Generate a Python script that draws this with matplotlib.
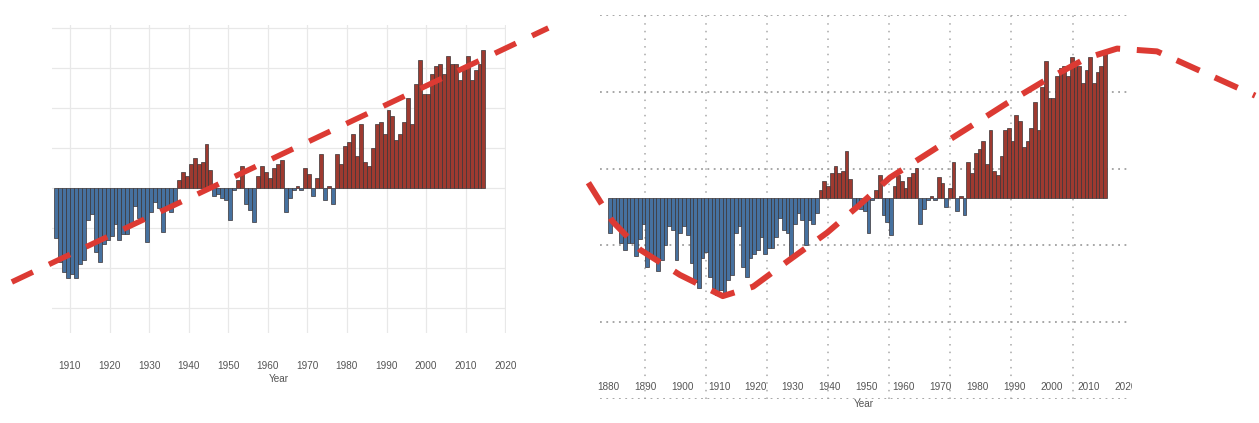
import numpy as np
import matplotlib
matplotlib.use("Agg")
import matplotlib.pyplot as plt
from matplotlib.transforms import Bbox, TransformedBbox

plt.rcParams['font.family'] = ['Liberation Sans', 'DejaVu Sans']

# annual anomalies, 1880-2014
years = np.arange(1880, 2015)
anomaly = [
    -0.16, -0.10, -0.12, -0.21, -0.24, -0.21, -0.21, -0.27, -0.19, -0.12,   # 1880s
    -0.32, -0.27, -0.29, -0.34, -0.29, -0.22, -0.13, -0.15, -0.29, -0.16,   # 1890s
    -0.13, -0.17, -0.30, -0.39, -0.42, -0.28, -0.25, -0.37, -0.42, -0.45,   # 1900s
    -0.43, -0.45, -0.38, -0.36, -0.16, -0.13, -0.32, -0.37, -0.28, -0.26,   # 1910s
    -0.24, -0.18, -0.26, -0.23, -0.23, -0.18, -0.09, -0.15, -0.16, -0.27,   # 1920s
    -0.12, -0.07, -0.10, -0.22, -0.10, -0.12, -0.07, 0.04, 0.08, 0.06,      # 1930s
    0.12, 0.15, 0.12, 0.13, 0.22, 0.09, -0.04, -0.03, -0.05, -0.06,         # 1940s
    -0.16, -0.01, 0.04, 0.11, -0.08, -0.11, -0.17, 0.06, 0.11, 0.08,        # 1950s
    0.05, 0.10, 0.12, 0.14, -0.12, -0.05, -0.01, 0.01, -0.01, 0.10,         # 1960s
    0.07, -0.04, 0.05, 0.17, -0.06, 0.01, -0.08, 0.17, 0.12, 0.21,          # 1970s
    0.23, 0.27, 0.16, 0.32, 0.13, 0.11, 0.20, 0.32, 0.33, 0.27,             # 1980s
    0.39, 0.36, 0.24, 0.27, 0.33, 0.45, 0.32, 0.52, 0.64, 0.47,             # 1990s
    0.47, 0.57, 0.61, 0.62, 0.57, 0.66, 0.62, 0.62, 0.54, 0.60,             # 2000s
    0.66, 0.54, 0.59, 0.62, 0.69,                                           # 2010s
]
left_start = 1906

# straight dashed trend on the left panel
trend_years = [1895.3, 2030.9]
trend_values = [-0.47, 0.80]

# dashed curve on the right panel
curve_years = [1874.6, 1881.2, 1888.6, 1899.4, 1911.0, 1919.2, 1928.4, 1939.3, 1948.1,
               1956.3, 1969.0, 1978.0, 1988.0, 1997.7, 2009.6, 2017.8, 2028.6, 2055.2]
curve_values = [0.073, -0.109, -0.24, -0.358, -0.457, -0.413, -0.296, -0.16, -0.03,
                0.097, 0.237, 0.335, 0.445, 0.545, 0.656, 0.70, 0.687, 0.48]

tick_years = np.arange(1880, 2021, 10)

anomaly = np.array(anomaly)
blue, red = '#46719f', '#9e3a30'
edge = '#3a3436'
dash_red = '#dc3a33'


def bars(ax, yrs, vals):
    cols = [red if v > 0 else blue for v in vals]
    ax.bar(yrs, vals, width=1.0, align='edge', color=cols, edgecolor=edge,
           linewidth=0.5, zorder=2)


fig = plt.figure(figsize=(12.59, 4.23), dpi=100)
W, H = 1259, 423

# ---- left panel ----
ax1 = fig.add_axes([52 / W, (H - 333) / H, 454 / W, 308 / H])
mask = years >= left_start
bars(ax1, years[mask], anomaly[mask])
ax1.set_xlim(1905.45, 2020.2)
ax1.set_ylim(-0.725, 0.815)
ax1.set_xticks(tick_years[tick_years >= 1910])
ax1.set_yticks(np.arange(-0.6, 0.81, 0.2))
ax1.grid(True, color='#e8e8e8', linewidth=0.9, zorder=0)
ax1.set_axisbelow(True)
for s in ax1.spines.values():
    s.set_visible(False)
ax1.tick_params(axis='x', length=0, pad=20, labelsize=7.2, labelcolor='#555555')
ax1.tick_params(axis='y', length=0, labelleft=False)
ax1.set_xlabel('Year', fontsize=7.2, color='#555555', labelpad=2.5)
ax1.plot(trend_years, trend_values, color=dash_red, lw=4.0, dashes=(4.2, 3.2),
         solid_capstyle='butt', dash_capstyle='butt', clip_on=False, zorder=5)

# ---- right panel ----
ax2 = fig.add_axes([600 / W, (H - 399) / H, 528 / W, 384 / H])
bars(ax2, years, anomaly)
ax2.set_xlim(1877.75, 2020.76)
ax2.set_ylim(-0.938, 0.857)
ax2.set_xticks(tick_years)
ax2.set_xticks(1889.9 + 16.55 * np.arange(8), minor=True)
ax2.set_yticks(np.linspace(-0.938, 0.857, 6))
ax2.grid(True, which='minor', axis='x', color='#a8a8a8', linewidth=1.1,
         linestyle=(0, (1, 4)), zorder=0)
ax2.grid(True, which='major', axis='y', color='#a0a0a0', linewidth=1.3,
         linestyle=(0, (1, 2.5)), zorder=0)
ax2.set_axisbelow(True)
for s in ax2.spines.values():
    s.set_visible(False)
ax2.tick_params(axis='x', which='both', length=0, pad=-12.5, labelsize=7.2,
                labelcolor='#555555')
ax2.tick_params(axis='y', length=0, labelleft=False)
ax2.set_xlabel('Year', fontsize=7.2, color='#555555', labelpad=0)
ax2.plot(curve_years, curve_values, color=dash_red, lw=4.3, dashes=(4.2, 2.8),
         solid_capstyle='butt', dash_capstyle='butt', clip_on=False, zorder=5)

# last label of the right panel is cut at the image crop
last = ax2.xaxis.get_major_ticks()[-1].label1
last.set_clip_box(TransformedBbox(Bbox([[0, 0], [1132 / W, 1]]), fig.transFigure))
last.set_clip_on(True)

fig.savefig('out.png', dpi=100)
